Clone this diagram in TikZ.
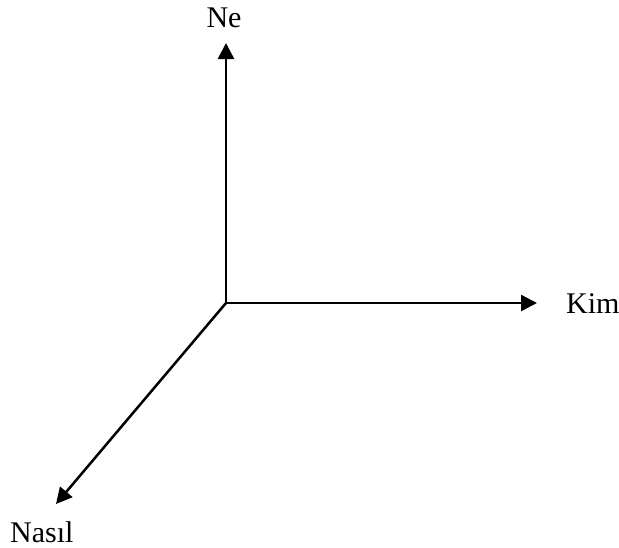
\documentclass[tikz,border=0pt]{standalone}
\usepackage{fontspec}
\setmainfont{Liberation Serif}
\usetikzlibrary{arrows.meta}
\begin{document}
\begin{tikzpicture}[x=1pt,y=-1pt,
  axis/.style={line width=2.5pt,-{Triangle[length=16pt,width=16pt]}},
  lbl/.style={inner sep=0pt,font=\fontsize{30}{36}\selectfont}]
\useasboundingbox (0,0) rectangle (619,547);
\coordinate (O) at (226,303);
\coordinate (up) at (226,43);
\coordinate (right) at (537,303);
\coordinate (dl) at (56,504);
\draw[axis] (O) -- (up);
\draw[axis] (O) -- (right);
\draw[axis,shorten <=-1pt] (O) -- (dl);
\node[lbl,anchor=base] (ne) at (224,27) {Ne};
\node[lbl,anchor=base west] (kim) at (566,313) {Kim};
\node[lbl,anchor=base west] (nasil) at (10,542) {Nasıl};
\end{tikzpicture}
\end{document}
